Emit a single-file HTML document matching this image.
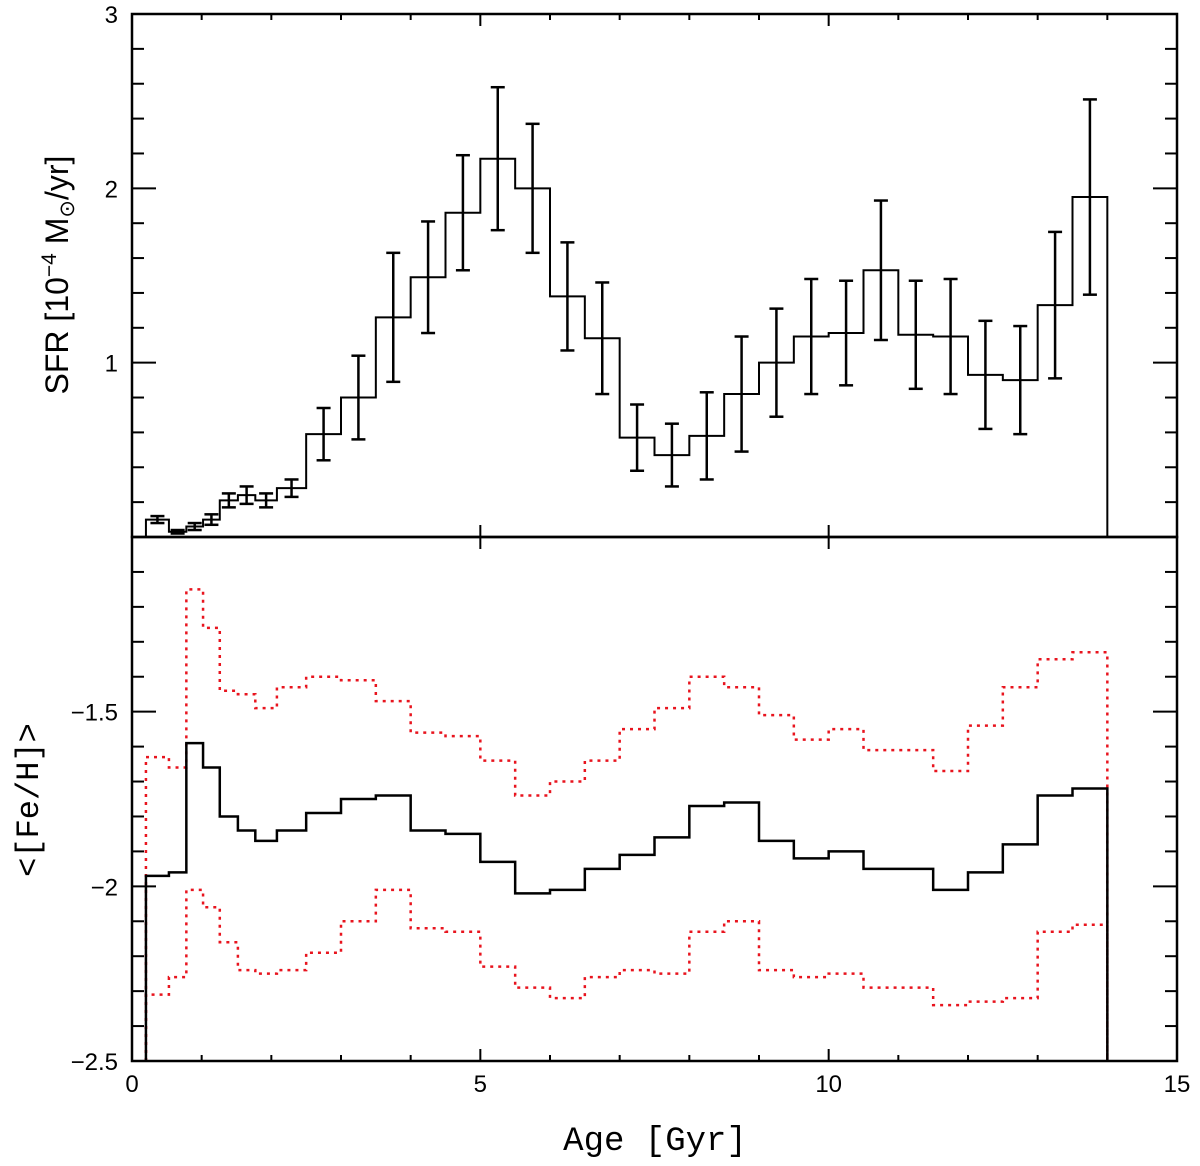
<!DOCTYPE html>
<html><head><meta charset="utf-8"><style>
html,body{margin:0;padding:0;background:#fff}
svg{display:block;font-family:"Liberation Sans",sans-serif}
</style></head><body>
<svg id="c" width="1200" height="1166"></svg>
<script>
const edges=[0.2,0.53,0.78,1.02,1.26,1.52,1.77,2.08,2.5,3,3.5,4,4.5,5,5.5,6,6.5,7,7.5,8,8.5,9,9.5,10,10.5,11,11.5,12,12.5,13,13.5,14];
const sfr=[0.10,0.03,0.06,0.10,0.21,0.24,0.21,0.28,0.59,0.80,1.26,1.49,1.86,2.17,2.0,1.38,1.14,0.57,0.47,0.58,0.82,1.0,1.15,1.17,1.53,1.16,1.15,0.93,0.90,1.33,1.95];
const sfrErr=[0.02,0.01,0.02,0.03,0.04,0.05,0.04,0.05,0.15,0.24,0.37,0.32,0.33,0.41,0.37,0.31,0.32,0.19,0.18,0.25,0.33,0.31,0.33,0.30,0.40,0.31,0.33,0.31,0.31,0.42,0.56];
const feh=[-1.97,-1.96,-1.59,-1.66,-1.80,-1.84,-1.87,-1.84,-1.79,-1.75,-1.74,-1.84,-1.85,-1.93,-2.02,-2.01,-1.95,-1.91,-1.86,-1.77,-1.76,-1.87,-1.92,-1.90,-1.95,-1.95,-2.01,-1.96,-1.88,-1.74,-1.72];
const fehHi=[-1.63,-1.66,-1.15,-1.26,-1.44,-1.45,-1.49,-1.43,-1.40,-1.41,-1.47,-1.56,-1.57,-1.64,-1.74,-1.70,-1.64,-1.55,-1.49,-1.40,-1.43,-1.51,-1.58,-1.55,-1.61,-1.61,-1.67,-1.54,-1.43,-1.35,-1.33];
const fehLo=[-2.31,-2.26,-2.01,-2.06,-2.16,-2.24,-2.25,-2.24,-2.19,-2.10,-2.01,-2.12,-2.13,-2.23,-2.29,-2.32,-2.26,-2.24,-2.25,-2.13,-2.10,-2.24,-2.26,-2.25,-2.29,-2.29,-2.34,-2.33,-2.32,-2.13,-2.11];
const xTicks=["0","5","10","15"];
const sfrTicks=["1","2","3"];
const fehTicks=["-2.5","-2","-1.5"];

const L=132,R=1177,T=14,M=537,B=1061;
const X=v=>L+(v/15)*(R-L);
const Y1=v=>M-(v/3)*(M-T);
const Y2=v=>B-((v+2.5)/1.5)*(B-M);
const svg=document.getElementById('c');
const NS='http://www.w3.org/2000/svg';
function mk(tag,attrs,parent){const e=document.createElementNS(NS,tag);for(const k in attrs)e.setAttribute(k,attrs[k]);(parent||svg).appendChild(e);return e;}

function stepPath(vals,Y,base){
  let d=`M${X(edges[0])},${Y(base)} L${X(edges[0])},${Y(vals[0])}`;
  for(let i=0;i<vals.length;i++){d+=` L${X(edges[i])},${Y(vals[i])} L${X(edges[i+1])},${Y(vals[i])}`;}
  d+=` L${X(edges[edges.length-1])},${Y(base)}`;return d;
}
const tg=mk('g',{});


for(let v=0;v<=15;v++){const len=v%5==0?12:6;
  [[B,-1],[T,1],[M,-1],[M,1]].forEach(([y,s])=>{if(y==M&&v%5)return;mk('line',{x1:X(v),x2:X(v),y1:y,y2:y+s*len,stroke:'#000','stroke-width':2},tg);});
}
for(let i=1;i<15;i++){const v=i*0.2,len=i%5==0?24:12;
  mk('line',{x1:L,x2:L+len,y1:Y1(v),y2:Y1(v),stroke:'#000','stroke-width':2},tg);
  mk('line',{x1:R,x2:R-len,y1:Y1(v),y2:Y1(v),stroke:'#000','stroke-width':2},tg);}
for(let i=1;i<15;i++){const v=-2.5+i*0.1,len=i%5==0?24:12;
  mk('line',{x1:L,x2:L+len,y1:Y2(v),y2:Y2(v),stroke:'#000','stroke-width':2},tg);
  mk('line',{x1:R,x2:R-len,y1:Y2(v),y2:Y2(v),stroke:'#000','stroke-width':2},tg);}
xTicks.forEach(t=>{const e=mk('text',{x:X(+t),y:1092,'font-size':24,'text-anchor':'middle'});e.textContent=t;
});
sfrTicks.forEach(t=>{const e=mk('text',{x:118,y:Y1(+t)+9,'font-size':24,'text-anchor':'end'});e.textContent=t;
});
fehTicks.forEach(t=>{const e=mk('text',{x:118,y:Y2(+t)+9,'font-size':24,'text-anchor':'end'});e.textContent=t.replace('-','\u2212');
});
const sp=mk('path',{d:stepPath(sfr,Y1,0),fill:'none',stroke:'#000','stroke-width':2});

for(let i=0;i<sfr.length;i++){const cx=X((edges[i]+edges[i+1])/2),y1=Y1(sfr[i]+sfrErr[i]),y2=Y1(sfr[i]-sfrErr[i]);
  const g=mk('g',{stroke:'#000','stroke-width':2.5});
  
  mk('line',{x1:cx,x2:cx,y1:y1,y2:y2},g);mk('line',{x1:cx-7,x2:cx+7,y1:y1,y2:y1},g);mk('line',{x1:cx-7,x2:cx+7,y1:y2,y2:y2},g);}
const ph=mk('path',{d:stepPath(fehHi,Y2,-2.5),fill:'none',stroke:'#e8141e','stroke-width':2.5,'stroke-dasharray':'3,5'});

const pl=mk('path',{d:stepPath(fehLo,Y2,-2.5),fill:'none',stroke:'#e8141e','stroke-width':2.5,'stroke-dasharray':'3,5'});

const pm=mk('path',{d:stepPath(feh,Y2,-2.5),fill:'none',stroke:'#000','stroke-width':2.5});

const f1=mk('rect',{x:L,y:T,width:R-L,height:M-T,fill:'none',stroke:'#000','stroke-width':2.5});

const f2=mk('rect',{x:L,y:M,width:R-L,height:B-M,fill:'none',stroke:'#000','stroke-width':2.5});

</script>
<svg style="position:absolute;left:0;top:0" width="1200" height="1166">
<text x="655" y="1150" font-family="Liberation Mono, monospace" font-size="34" text-anchor="middle">Age [Gyr]</text>
<text transform="translate(68,275) rotate(-90)" font-family="Liberation Sans, sans-serif" font-size="32" text-anchor="middle">SFR [10<tspan font-size="21" dy="-12">−4</tspan><tspan dy="12"> M</tspan><tspan font-size="21" dy="6">⊙</tspan><tspan dy="-6">/yr]</tspan></text>
<text transform="translate(38,800) rotate(-90)" font-family="Liberation Mono, monospace" font-size="32" text-anchor="middle">&lt;[Fe/H]&gt;</text>
</svg>
</body></html>
